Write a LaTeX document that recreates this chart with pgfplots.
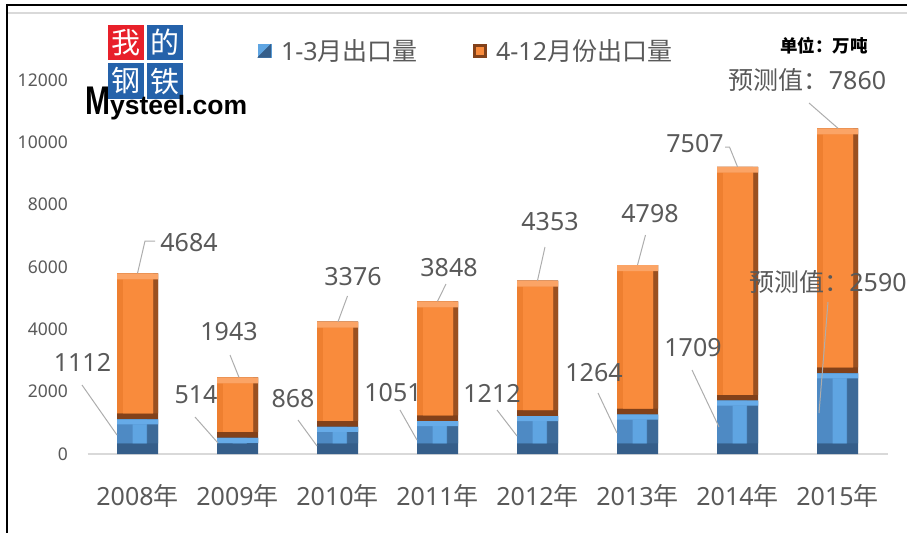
\documentclass[border=0pt]{standalone}
\usepackage{fontspec}
\setmainfont{Noto Sans}
\newfontfamily\cjk{Noto Sans CJK SC}
\newfontfamily\logofont{Liberation Sans}
\usepackage{graphicx}
\usepackage{pgfplots}
\pgfplotsset{compat=1.18}
\usepackage{pgfplotstable}

\definecolor{txt}{HTML}{595959}
\definecolor{bBot}{HTML}{355E8A}
\definecolor{bRight}{HTML}{3D6A98}
\definecolor{bLeft}{HTML}{4E8AC4}
\definecolor{bCen}{HTML}{5FA5E2}
\definecolor{bTop}{HTML}{66ABE8}
\definecolor{oBot}{HTML}{82411A}
\definecolor{oRight}{HTML}{9A5020}
\definecolor{oLeft}{HTML}{EE7F30}
\definecolor{oCen}{HTML}{F98B3C}
\definecolor{oTop}{HTML}{FBA466}
\definecolor{leadc}{HTML}{ADADAD}
\definecolor{basec}{HTML}{D9D9D9}
\definecolor{logoRed}{HTML}{E8202A}
\definecolor{logoBlue}{HTML}{2562AA}

% x = year index (2008 = 0), b = Jan-Mar exports, o = Apr-Dec exports
\pgfplotstableread{
x b o
0 1112 4684
1 514 1943
2 868 3376
3 1051 3848
4 1212 4353
5 1264 4798
6 1709 7507
7 2590 7860
}\data

\pgfplotsset{
  frame/.style={scale only axis, width=800pt, height=374pt,
    xmin=-0.5, xmax=7.5, ymin=0, ymax=12000,
    at={(87.5pt,79pt)}, anchor=south west, clip=false},
  layer/.style={frame, hide axis, ybar stacked, bar width=41pt},
  sp/.style={draw=none, fill=none, forget plot},
}
\tikzset{
  lbl/.style={anchor=base, inner sep=0pt, yshift=-9pt, text=txt,
    font=\fontsize{25pt}{30pt}\selectfont},
  lead/.style={draw=leadc, line width=1pt},
}
\newcommand\legfont{\fontsize{25pt}{28pt}\selectfont}

\begin{document}
\begin{tikzpicture}

% ticks and baseline
\begin{axis}[frame,
  axis line style={draw=none}, major tick length=0pt,
  xtick={0,...,7},
  xticklabels={2008{\cjk 年},2009{\cjk 年},2010{\cjk 年},2011{\cjk 年},2012{\cjk 年},2013{\cjk 年},2014{\cjk 年},2015{\cjk 年}},
  ytick={0,2000,...,12000}, scaled y ticks=false,
  /pgf/number format/1000 sep={}, /pgf/number format/assume math mode=true,
  xticklabel style={anchor=base, inner sep=0pt, yshift=-51pt, text=txt, font=\fontsize{25pt}{30pt}\selectfont},
  yticklabel style={anchor=east, inner sep=0pt, xshift=-19.5pt, text=txt, font=\fontsize{17.5pt}{20pt}\selectfont},
]
\draw[basec, line width=1.5pt] (axis cs:-0.5,0) -- (axis cs:7.5,0);
\end{axis}

% full bars (bottom faces)
\begin{axis}[layer]
\addplot[fill=bBot, draw=none] table[x=x, y=b] {\data};
\addplot[fill=oBot, draw=none] table[x=x, y=o] {\data};
\end{axis}

% right faces
\begin{axis}[layer]
\addplot[sp] table[x=x, y expr=340] {\data};
\addplot[fill=bRight, draw=none] table[x=x, y expr=\thisrow{b}-340] {\data};
\addplot[sp] table[x=x, y expr=192] {\data};
\addplot[fill=oRight, draw=none] table[x=x, y expr=\thisrow{o}-192] {\data};
\end{axis}

% left faces
\begin{axis}[layer]
\addplot[sp] table[x=x, y expr=340] {\data};
\addplot[fill=bLeft, draw=none, bar width=30pt, bar shift=-5.5pt] table[x=x, y expr=\thisrow{b}-340] {\data};
\addplot[sp] table[x=x, y expr=192] {\data};
\addplot[fill=oLeft, draw=none, bar width=36pt, bar shift=-2.5pt] table[x=x, y expr=\thisrow{o}-192] {\data};
\end{axis}

% centre faces
\begin{axis}[layer]
\addplot[sp] table[x=x, y expr=340] {\data};
\addplot[fill=bCen, draw=none, bar width=14pt, bar shift=2pt] table[x=x, y expr=\thisrow{b}-500] {\data};
\addplot[sp] table[x=x, y expr=352] {\data};
\addplot[fill=oCen, draw=none, bar width=30pt, bar shift=0.5pt] table[x=x, y expr=\thisrow{o}-384] {\data};
\end{axis}

% top faces
\begin{axis}[layer]
\addplot[sp] table[x=x, y expr=\thisrow{b}-160] {\data};
\addplot[fill=bTop, draw=none] table[x=x, y expr=160] {\data};
\addplot[sp] table[x=x, y expr=\thisrow{o}-192] {\data};
\addplot[fill=oTop, draw=none] table[x=x, y expr=192] {\data};
\end{axis}

% labels, leaders and legend
\begin{axis}[frame, hide axis,
  legend style={draw=none, fill=none, at={(0.2125,1.078)}, anchor=west,
    inner sep=0pt, text=txt,
    /tikz/every odd column/.append style={column sep=8pt},
    /tikz/every even column/.append style={column sep=53pt}},
  legend columns=2, legend cell align=left,
]
\addlegendimage{legend image code/.code={
  \fill[bCen] (0pt,-6.5pt) rectangle (13pt,6.5pt);
  \fill[bBot] (0pt,-6.5pt) -- (13pt,-6.5pt) -- (13pt,6.5pt) -- cycle;}}
\addlegendentry{\legfont 1-3{\cjk 月出口量}}
\addlegendimage{legend image code/.code={
  \fill[oBot] (0pt,-6.5pt) rectangle (13pt,6.5pt);
  \fill[oCen] (3pt,-3.5pt) rectangle (10pt,3.5pt);}}
\addlegendentry{\legfont 4-12{\cjk 月份出口量}}

\draw[lead] (axis cs:0,5796) -- (axis cs:0.075,6834) -- (axis cs:0.175,6834);
\draw[lead] (axis cs:1.015,2457) -- (axis cs:0.925,3176);
\draw[lead] (axis cs:2.005,4244) -- (axis cs:2.10,5070);
\draw[lead] (axis cs:3.0,4899) -- (axis cs:3.085,5454);
\draw[lead] (axis cs:4.0,5565) -- (axis cs:4.075,6641);
\draw[lead] (axis cs:5.0,6062) -- (axis cs:5.08,7026);
\draw[lead] (axis cs:6.0,9216) -- (axis cs:5.92,9850) -- (axis cs:5.875,9850);
\draw[lead] (axis cs:7.005,10450) -- (axis cs:6.715,11262);
\draw[lead] (axis cs:-0.205,610) -- (axis cs:-0.555,2214);
\draw[lead] (axis cs:0.805,353) -- (axis cs:0.575,1187);
\draw[lead] (axis cs:1.795,257) -- (axis cs:1.605,1091);
\draw[lead] (axis cs:2.795,449) -- (axis cs:2.625,1412);
\draw[lead] (axis cs:3.795,578) -- (axis cs:3.595,1412);
\draw[lead] (axis cs:4.795,674) -- (axis cs:4.605,1957);
\draw[lead] (axis cs:5.815,866) -- (axis cs:5.545,2695);
\draw[lead] (axis cs:6.815,1316) -- (axis cs:6.905,4877);

\node[lbl] at (axis cs:0.515,6802) {4684};
\node[lbl] at (axis cs:0.915,3946) {1943};
\node[lbl] at (axis cs:2.155,5711) {3376};
\node[lbl] at (axis cs:3.115,5968) {3848};
\node[lbl] at (axis cs:4.125,7444) {4353};
\node[lbl] at (axis cs:5.125,7732) {4798};
\node[lbl] at (axis cs:5.575,9978) {7507};
\node[lbl] at (axis cs:6.70,11968) {{\cjk 预测值：}7860};
\node[lbl] at (axis cs:-0.55,2920) {1112};
\node[lbl] at (axis cs:0.585,1925) {514};
\node[lbl] at (axis cs:1.555,1765) {868};
\node[lbl] at (axis cs:2.555,1989) {1051};
\node[lbl] at (axis cs:3.545,1957) {1212};
\node[lbl] at (axis cs:4.565,2599) {1264};
\node[lbl] at (axis cs:5.555,3433) {1709};
\node[lbl] at (axis cs:6.905,5487) {{\cjk 预测值：}2590};
\end{axis}

% frame of the screenshot
\draw[black, line width=2pt] (6pt,528pt) -- (907pt,528pt);
\draw[black, line width=2pt] (7pt,529pt) -- (7pt,0pt);
\draw[basec, line width=2pt] (8pt,520pt) -- (907pt,520pt);

% logo
\fill[logoRed] (108pt,473pt) rectangle (144pt,508pt);
\fill[logoBlue] (147pt,473pt) rectangle (183pt,508pt);
\fill[logoBlue] (108pt,434pt) rectangle (144pt,470pt);
\fill[logoBlue] (147pt,434pt) rectangle (183pt,470pt);
\node[white, font=\cjk\fontsize{29pt}{30pt}\selectfont] at (126pt,490.5pt) {我};
\node[white, font=\cjk\fontsize{29pt}{30pt}\selectfont] at (165pt,490.5pt) {的};
\node[white, font=\cjk\fontsize{29pt}{30pt}\selectfont] at (126pt,452pt) {钢};
\node[white, font=\cjk\fontsize{29pt}{30pt}\selectfont] at (165pt,452pt) {铁};
\node[anchor=base west, inner sep=0pt] at (85pt,418pt)
  {\logofont\bfseries\fontsize{40pt}{40pt}\selectfont\scalebox{0.75}[1]{M}\fontsize{26.5pt}{30pt}\selectfont ysteel.com};

% unit
\node[black, font=\cjk\bfseries\fontsize{17.5pt}{20pt}\selectfont] at (824pt,487pt) {单位：万吨};

\pgfresetboundingbox
\path[use as bounding box] (0pt,0pt) rectangle (907pt,533pt);
\end{tikzpicture}
\end{document}
